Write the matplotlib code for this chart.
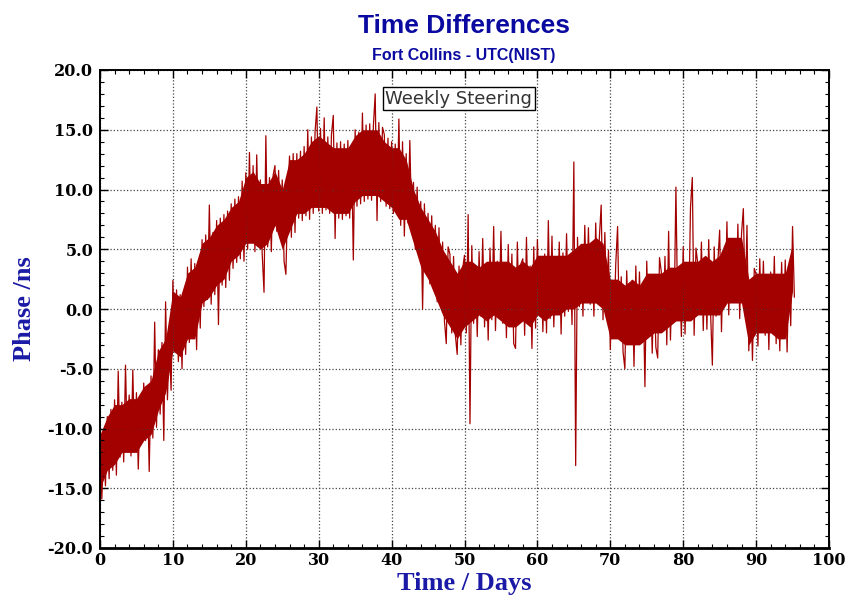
import numpy as np
import matplotlib
matplotlib.use('Agg')
import matplotlib.pyplot as plt
from matplotlib.ticker import MultipleLocator, FormatStrFormatter

plt.rcParams['axes.unicode_minus'] = False

# sample spacing of the phase record (days)
step_days = 0.25

# phase readings (ns), one row per day, four samples a day
phase_ns = [
    -10.2, -15.9, -11.5, -14.8,   # day 0
    -9.0, -14.2, -8.4, -13.5,
    -7.6, -13.9, -5.2, -12.4,
    -7.8, -12.8, -4.7, -11.6,
    -7.2, -12.3, -5.1, -11.9,
    -7.0, -13.4, -7.6, -11.2,     # day 5
    -6.2, -11.0, -6.5, -13.6,
    -5.6, -10.8, -1.1, -9.9,
    -3.4, -8.8, -2.8, -11.0,
    0.6, -7.6, -2.6, -6.8,
    2.4, -3.6, 1.6, -4.4,         # day 10
    1.2, -5.0, 1.5, -3.8,
    3.5, -2.8, 4.2, -2.4,
    3.8, -3.4, 4.0, -1.6,
    5.8, 0.2, 6.2, 0.8,
    8.7, 0.4, 6.4, 1.2,           # day 15
    7.4, -1.3, 7.6, 2.0,
    7.9, 1.8, 8.2, 2.4,
    8.8, 3.4, 9.2, 3.9,
    9.4, 4.2, 10.7, 4.0,
    11.4, 5.0, 13.1, 5.6,         # day 20
    12.0, 4.8, 12.9, 5.8,
    10.8, 4.6, 1.4, 14.5,
    5.2, 11.0, 4.8, 11.2,
    12.0, 6.5, 11.6, 6.8,
    10.8, 4.0, 2.9, 9.5,          # day 25
    12.8, 6.0, 13.0, 6.4,
    13.0, 7.6, 13.2, 7.4,
    13.6, 7.8, 15.0, 7.5,
    14.4, 8.0, 14.8, 16.9,
    8.2, 15.1, 8.0, 16.0,         # day 30
    8.3, 14.4, 8.0, 14.6,
    16.2, 5.9, 13.9, 7.6,
    14.0, 7.5, 13.8, 7.8,
    14.1, 7.6, 13.6, 4.1,
    15.0, 8.6, 14.8, 8.8,         # day 35
    16.4, 9.0, 15.4, 9.2,
    15.5, 9.1, 15.3, 18.0,
    7.4, 15.6, 9.0, 15.2,
    14.6, 8.6, 14.3, 8.4,
    14.0, 8.0, 13.8, 8.2,         # day 40
    15.9, 7.0, 14.0, 6.1,
    13.0, 7.2, 14.1, 7.0,
    10.6, 5.0, 10.2, 5.3,
    9.0, 0.0, 8.8, 3.2,
    8.0, 2.1, 7.8, 2.0,           # day 45
    7.0, 0.6, 6.8, 0.4,
    5.6, -1.0, -2.9, 5.2,
    4.6, -2.0, 4.4, -2.2,
    -3.8, 3.6, -3.0, 3.4,
    4.5, -2.0, 7.9, -9.6,         # day 50
    5.3, -1.2, 3.6, -2.3,
    4.8, -0.6, 5.9, -1.5,
    3.7, -2.6, 5.1, -0.9,
    6.9, -1.8, 4.0, -0.4,
    6.5, -1.2, 3.9, -2.4,         # day 55
    5.4, -0.7, 4.6, -2.9,
    -3.3, 5.6, -1.1, 3.8,
    4.2, -2.2, 6.0, -0.8,
    3.6, -3.3, 5.2, -1.6,
    5.8, -0.4, 4.3, -1.9,         # day 60
    4.6, -2.0, 7.4, -0.8,
    6.1, -1.5, 3.9, -0.3,
    5.6, -2.1, 4.7, -0.6,
    6.3, -0.2, 4.4, -1.3,
    12.3, -13.1, 6.0, 0.2,        # day 65
    5.4, -0.6, 7.0, 0.8,
    6.8, 0.4, 5.3, -0.6,
    7.2, 0.9, 6.0, 8.7,
    -0.9, 6.4, 0.3, 4.9,
    -3.4, 2.4, -1.6, 3.8,         # day 70
    6.9, -2.2, 2.7, -3.6,
    -5.0, 3.2, -1.9, 1.8,
    2.4, -4.8, 3.6, -2.6,
    3.1, -2.8, 1.9, -6.5,
    4.0, -1.9, 2.6, -3.7,         # day 75
    2.9, -3.2, -4.1, 4.3,
    3.1, -1.6, 4.4, -3.0,
    6.5, -2.6, 3.2, -0.9,
    10.2, -0.7, 3.5, -2.3,
    5.2, -2.1, 3.7, -0.6,         # day 80
    8.5, 11.0, -2.2, 5.1,
    3.8, -0.4, 5.6, -1.8,
    4.3, -1.7, 5.8, -0.2,
    -4.7, 5.2, -0.6, 3.9,
    6.6, -1.9, 4.4, 0.3,          # day 85
    7.3, -0.5, 5.8, 0.9,
    5.9, 0.6, 7.1, -0.8,
    6.3, 8.4, 0.5, 7.0,
    -3.5, 2.4, -4.3, 3.4,
    2.9, -3.1, 4.2, -1.8,         # day 90
    4.0, -2.2, 2.8, -3.4,
    3.1, -1.7, 4.4, -2.9,
    2.6, -3.5, 3.9, -2.1,
    4.1, -3.6, 2.9, -1.4,
    6.9, 1.0,                     # day 95
]

# dense core of the trace, one value per day (days 0..95)
core_lo = [
    -15.0, -13.5, -13.0, -12.0, -12.0, -12.0, -11.0, -10.5, -8.5, -7.0,
    -3.5, -4.0, -2.5, -2.5, 0.5, 1.0, 2.0, 2.5, 4.0, 4.5,
    5.5, 5.5, 5.0, 5.5, 7.0, 5.0, 6.5, 8.0, 8.0, 8.5,
    8.5, 8.5, 8.0, 8.0, 8.0, 9.0, 9.5, 9.5, 9.5, 9.0,
    8.5, 7.5, 7.5, 5.5, 3.5, 2.5, 1.0, -0.5, -1.5, -2.5,
    -1.5, -1.0, -0.5, -1.0, -0.5, -1.0, -1.5, -1.5, -1.0, -1.5,
    -0.5, -1.0, -0.5, -0.5, 0.0, 0.0, 0.5, 0.5, 0.5, 0.0,
    -2.5, -2.5, -3.0, -3.0, -3.0, -2.5, -2.0, -2.0, -1.5, -1.0,
    -1.0, -1.0, -0.5, -0.5, -0.5, -0.5, 0.5, 0.5, 0.5, -3.0,
    -2.0, -2.0, -2.0, -2.5, -2.5, 1.5,
]
core_hi = [
    -10.5, -9.0, -8.0, -8.0, -7.5, -7.5, -6.5, -6.0, -3.5, -2.5,
    1.5, 1.0, 3.0, 3.5, 5.5, 6.0, 7.0, 7.5, 8.5, 9.0,
    11.0, 11.5, 10.5, 10.5, 11.5, 10.0, 12.5, 12.5, 13.0, 14.0,
    14.5, 14.0, 13.5, 13.5, 13.5, 14.5, 15.0, 15.0, 15.0, 14.0,
    13.5, 13.5, 12.5, 10.0, 8.5, 7.5, 6.5, 5.0, 4.0, 3.0,
    4.0, 4.0, 3.5, 4.0, 4.0, 4.0, 4.0, 3.5, 4.0, 3.5,
    4.5, 4.5, 4.5, 4.5, 4.5, 5.0, 5.5, 5.5, 6.0, 5.5,
    2.5, 2.5, 2.0, 2.5, 2.0, 3.0, 3.0, 3.0, 3.5, 3.5,
    4.0, 4.0, 4.0, 4.5, 4.0, 4.5, 6.0, 6.0, 6.0, 2.5,
    3.0, 3.0, 3.0, 3.0, 3.0, 5.5,
]

x_ticks = [0, 10, 20, 30, 40, 50, 60, 70, 80, 90, 100]
y_ticks = [-20, -15, -10, -5, 0, 5, 10, 15, 20]

title = 'Time Differences'
subtitle = 'Fort Collins - UTC(NIST)'
note = 'Weekly Steering'

days = np.arange(len(phase_ns)) * step_days
core_days = np.arange(len(core_lo))

trace_red = '#a30000'

fig = plt.figure(figsize=(8.51, 5.98), dpi=100)
ax = fig.add_axes([100 / 851, 1 - 548 / 598, 729 / 851, 478 / 598])

ax.fill_between(core_days, core_lo, core_hi, color=trace_red, lw=0)
ax.plot(days, phase_ns, color=trace_red, lw=0.9)

ax.set_xlim(0, 100)
ax.set_ylim(-20, 20)
ax.set_xticks(x_ticks)
ax.set_yticks(y_ticks)
ax.xaxis.set_minor_locator(MultipleLocator(2))
ax.yaxis.set_minor_locator(MultipleLocator(1))
ax.yaxis.set_major_formatter(FormatStrFormatter('%.1f'))

ax.tick_params(which='both', direction='in', top=True, right=True, color='black')
ax.tick_params(which='major', length=6, width=1)
ax.tick_params(which='minor', length=3, width=0.8)
ax.tick_params(axis='x', pad=3)
ax.tick_params(axis='y', pad=5)
for lab in ax.get_xticklabels() + ax.get_yticklabels():
    lab.set_fontfamily('DejaVu Serif')
    lab.set_fontweight('bold')
    lab.set_fontsize(11.5)

ax.grid(True, which='major', linestyle=':', color='#444444', lw=0.9)
for s in ax.spines.values():
    s.set_linewidth(1.4)
ax.spines['bottom'].set_linewidth(2)

ax.set_xlabel('Time / Days', family='Liberation Serif', fontweight='bold',
              fontsize=19, color='#1a1aa6', labelpad=2)
ax.set_ylabel('Phase /ns', family='Liberation Serif', fontweight='bold',
              fontsize=19, color='#1a1aa6', labelpad=8)

fig.text(464 / 851, 1 - 33 / 598, title, ha='center', va='baseline',
         family='Liberation Sans', fontweight='bold', fontsize=19, color='#0a0aa0')
fig.text(464 / 851, 1 - 60 / 598, subtitle, ha='center', va='baseline',
         family='Liberation Sans', fontweight='bold', fontsize=11.5, color='#0a0aa0')

ax.text(49.2, 17.6, note, ha='center', va='center', fontsize=13,
        family='DejaVu Sans', color='#333333', zorder=5,
        bbox=dict(boxstyle='square,pad=0.15', fc='white', ec='black', lw=1))

fig.savefig('out.png', dpi=100)
